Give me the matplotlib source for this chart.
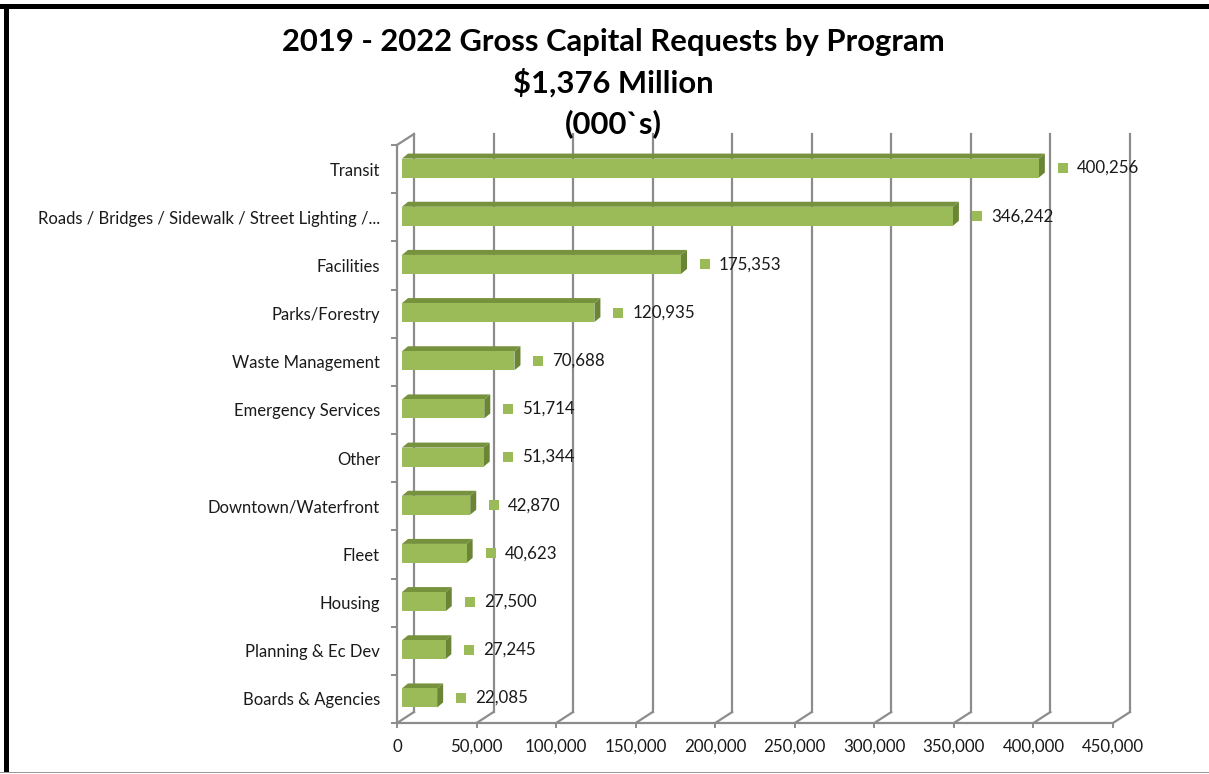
import matplotlib
matplotlib.use("Agg")
import matplotlib.pyplot as plt
from matplotlib import transforms
from matplotlib.patches import Polygon, Rectangle

categories = ["Transit", "Roads / Bridges / Sidewalk / Street Lighting /...", "Facilities",
              "Parks/Forestry", "Waste Management", "Emergency Services", "Other",
              "Downtown/Waterfront", "Fleet", "Housing", "Planning & Ec Dev", "Boards & Agencies"]
values = [400256, 346242, 175353, 120935, 70688, 51714, 51344, 42870, 40623, 27500, 27245, 22085]
xticks = list(range(0, 450001, 50000))
title_lines = ["2019 - 2022 Gross Capital Requests by Program", "$1,376 Million", "(000`s)"]

W, H = 1209, 774
fig = plt.figure(figsize=(W / 100, H / 100), dpi=100)
plt.rcParams['font.family'] = ['Lato', 'DejaVu Sans']

# front plane of the plot area (pixels)
x0, x1 = 397, 1113
ytop, ybot = 145, 723
ax = fig.add_axes([x0 / W, (H - ybot) / H, (x1 - x0) / W, (ybot - ytop) / H])
n = len(categories)
xmax = 450000
ax.set_xlim(0, xmax)
ax.set_ylim(0, n)
ax.axis('off')

pxx = (x1 - x0) / xmax          # pixels per data unit (x)
pxy = (ybot - ytop) / n         # pixels per row (y)

grid_c = '#8c8c8c'
back_dx, back_dy = 17, 11
tback = transforms.offset_copy(ax.transData, fig=fig, x=back_dx, y=back_dy, units='dots')
fs = 12.2
fs_cat = 11.95

# back wall gridlines + floor diagonals
for xv in xticks:
    ax.plot([xv, xv], [0, n], color=grid_c, lw=1.6, transform=tback, clip_on=False, zorder=1)
    ax.plot([xv, xv + back_dx / pxx], [0, back_dy / pxy], color=grid_c, lw=1.6,
            clip_on=False, zorder=1)
# left wall
ax.plot([0, 0], [0, n], color=grid_c, lw=1.6, clip_on=False, zorder=1)
ax.plot([0, back_dx / pxx], [n, n + back_dy / pxy], color=grid_c, lw=1.6, clip_on=False, zorder=1)
# front floor axis
ax.plot([0, xmax], [0, 0], color=grid_c, lw=1.6, clip_on=False, zorder=1)
for xv in xticks:
    ax.plot([xv, xv], [0, -4 / pxy], color=grid_c, lw=1.4, clip_on=False, zorder=1)
    ax.text(xv, -24 / pxy, f"{xv:,}", ha='center', va='center', fontsize=fs,
            color='#1a1a1a', clip_on=False)
for i in range(n + 1):
    ax.plot([0, -5 / pxx], [i, i], color=grid_c, lw=1.4, clip_on=False, zorder=1)

# bars
bar_c, top_c, side_c = '#9bbb59', '#76923c', '#6a8536'
face_off = 5 / pxx
bh = 19 / pxy
ddx, ddy = 6 / pxx, 5 / pxy
for i, (cat, v) in enumerate(zip(categories, values)):
    yc = n - i - 0.5 + 1.0 / pxy
    yb, yt = yc - bh / 2, yc + bh / 2
    xl, xr = face_off, face_off + v
    ax.add_patch(Polygon([(xl, yt), (xr, yt), (xr + ddx, yt + ddy), (xl + ddx, yt + ddy)],
                         closed=True, facecolor=top_c, edgecolor='none', zorder=3, clip_on=False))
    ax.add_patch(Polygon([(xr, yb), (xr + ddx, yb + ddy), (xr + ddx, yt + ddy), (xr, yt)],
                         closed=True, facecolor=side_c, edgecolor='none', zorder=3, clip_on=False))
    ax.add_patch(Rectangle((xl, yb), v, bh, facecolor=bar_c, edgecolor='none', zorder=4,
                           clip_on=False))
    # data label
    ax.plot([xr + 24 / pxx], [yc], marker='s', markersize=7.2, color=bar_c,
            markeredgewidth=0, clip_on=False, zorder=5)
    ax.text(xr + 38 / pxx, yc, f"{v:,}", ha='left', va='center', fontsize=fs,
            color='#1a1a1a', clip_on=False, zorder=5)
    # category label
    ax.text(-17 / pxx, n - i - 0.5 - 1.5 / pxy, cat, ha='right', va='center', fontsize=fs_cat,
            color='#1a1a1a', clip_on=False)

# title
for k, line in enumerate(title_lines):
    fig.text(613 / W, 1 - (42 + 41 * k) / H, line, ha='center', va='center',
             fontsize=22.3, fontweight='bold', color='black')

# border
fig.add_artist(Rectangle((0, 1 - 9 / H), 1, 5 / H, transform=fig.transFigure,
                         facecolor='black', edgecolor='none'))
fig.add_artist(Rectangle((4 / W, 2 / H), 5 / W, 1 - 6 / H, transform=fig.transFigure,
                         facecolor='black', edgecolor='none'))
fig.add_artist(Rectangle((0, 1 / H), 1, 1.5 / H, transform=fig.transFigure,
                         facecolor='#999999', edgecolor='none'))

fig.savefig("out.png", dpi=100)
